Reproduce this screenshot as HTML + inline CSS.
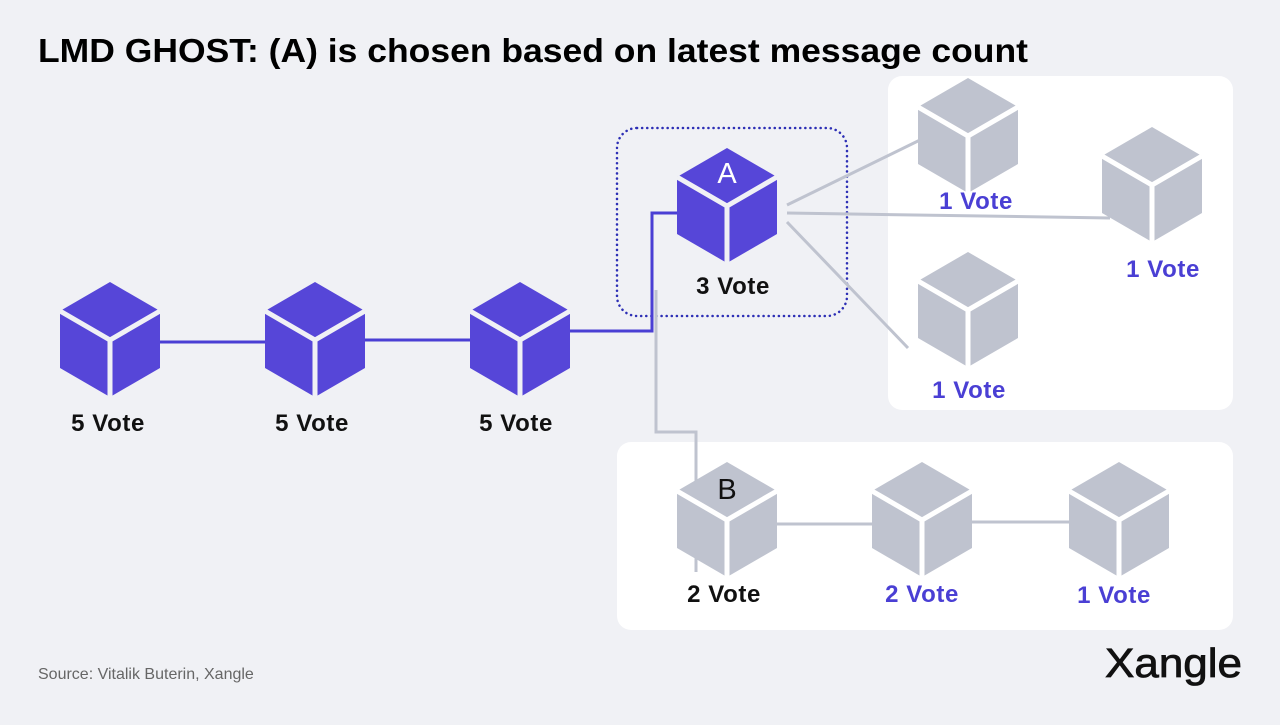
<!DOCTYPE html><html><head><style>body{margin:0;width:1280px;height:720px;background:#f0f1f5;overflow:hidden;font-family:"Liberation Sans",Arial,sans-serif}</style></head><body>
<svg width="1280" height="720" xmlns="http://www.w3.org/2000/svg" font-family="Liberation Sans, Arial, sans-serif">
<defs>
<g id="c"><polygon points="50,0 100,29 100,86 50,115 0,86 0,29"/><path d="M0,29 L50,58 L100,29 M50,58 L50,115" stroke="#f0f1f5" stroke-width="5" fill="none"/></g>
<g id="cw"><polygon points="50,0 100,29 100,86 50,115 0,86 0,29"/><path d="M0,29 L50,58 L100,29 M50,58 L50,115" stroke="#fff" stroke-width="5" fill="none"/></g>
</defs>
<text x="38" y="62" font-size="33" font-weight="bold" fill="#000" textLength="990" lengthAdjust="spacingAndGlyphs">LMD GHOST: (A) is chosen based on latest message count</text>
<rect x="888" y="76" width="345" height="334" rx="14" fill="#fff"/>
<rect x="617" y="128" width="230" height="188" rx="20" fill="none" stroke="#2d2fb5" stroke-width="2.5" stroke-dasharray="0.1,5" stroke-linecap="round"/>
<rect x="617" y="442" width="616" height="188" rx="14" fill="#fff"/>
<g stroke="#bfc3cf" stroke-width="3" fill="none">
<path d="M656,290 V432 H696 V572"/>
<path d="M787,205 L920,140 M787,213 L1110,218 M787,222 L908,348 M777,524 H872 M970,522 H1069"/>
</g>
<g stroke="#4a3fd4" stroke-width="3" fill="none"><path d="M160,342 H265 M365,340 H470 M568,331 H652 V213 H677"/></g>
<g fill="#5646d8"><use href="#c" x="60" y="282"/><use href="#c" x="265" y="282"/><use href="#c" x="470" y="282"/><use href="#c" x="677" y="148"/></g>
<g fill="#bfc3cf"><use href="#cw" x="918" y="78"/><use href="#cw" x="1102" y="127"/><use href="#cw" x="918" y="252"/><use href="#cw" x="677" y="462"/><use href="#cw" x="872" y="462"/><use href="#cw" x="1069" y="462"/></g>
<text x="727" y="183" font-size="29" fill="#fff" text-anchor="middle">A</text>
<text x="727" y="499" font-size="29" fill="#111" text-anchor="middle">B</text>
<g font-size="24" font-weight="bold" text-anchor="middle" fill="#111" letter-spacing="0.6">
<text x="108" y="431">5 Vote</text><text x="312" y="431">5 Vote</text><text x="516" y="431">5 Vote</text><text x="733" y="294">3 Vote</text><text x="724" y="602">2 Vote</text></g>
<g font-size="24" font-weight="bold" text-anchor="middle" fill="#4a3fd4" letter-spacing="0.6">
<text x="976" y="209">1 Vote</text><text x="1163" y="277">1 Vote</text><text x="969" y="398">1 Vote</text><text x="922" y="602">2 Vote</text><text x="1114" y="603">1 Vote</text></g>
<text x="38" y="679" font-size="16" fill="#666">Source: Vitalik Buterin, Xangle</text>
<text x="1242" y="677" font-size="41" fill="#111" text-anchor="end" textLength="137" lengthAdjust="spacingAndGlyphs" stroke="#111" stroke-width="0.8">Xangle</text>
</svg></body></html>
